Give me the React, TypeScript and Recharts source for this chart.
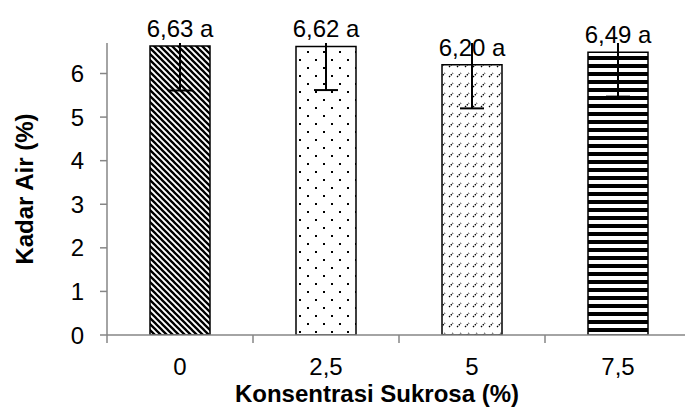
import React from "react";
import {
  BarChart,
  Bar,
  XAxis,
  YAxis,
  Cell,
  ErrorBar,
  LabelList,
} from "recharts";

const categories = ["0", "2,5", "5", "7,5"];
const kadarAir = [6.63, 6.62, 6.2, 6.49];
const errors = [1.02, 1.0, 1.0, 1.02];
const notasi = ["a", "a", "a", "a"];
const yTicks = [0, 1, 2, 3, 4, 5, 6];
const patterns = ["p-diag", "p-dots", "p-dash", "p-horiz"];

const data = categories.map((c, i) => ({
  name: c,
  value: kadarAir[i],
  err: errors[i],
  label: `${kadarAir[i].toFixed(2).replace(".", ",")} ${notasi[i]}`,
}));

const FONT = "'Liberation Sans', Arial, sans-serif";
const AXIS = "#868686";
const FS = 24;

// defs shared through url(#id); the clip keeps error bars inside the plot top like Excel does
const Patterns = () => (
  <svg width={0} height={0} style={{ position: "absolute" }}>
    <defs>
      <clipPath id="plot-top" clipPathUnits="userSpaceOnUse">
        <rect x={0} y={43} width={700} height={400} />
      </clipPath>
      <pattern id="p-diag" width={6} height={6} patternUnits="userSpaceOnUse">
        <rect width={6} height={6} fill="#fff" />
        <path
          d="M-1,-1 L7,7 M-1,5 L1,7 M5,-1 L7,1"
          stroke="#000"
          strokeWidth={2.3}
        />
      </pattern>
      <pattern id="p-dots" width={16} height={16} patternUnits="userSpaceOnUse">
        <rect width={16} height={16} fill="#fff" />
        <rect x={3} y={3} width={2} height={2} fill="#000" />
        <rect x={11} y={11} width={2} height={2} fill="#000" />
      </pattern>
      <pattern id="p-dash" width={8} height={10} patternUnits="userSpaceOnUse">
        <rect width={8} height={10} fill="#fff" />
        <path d="M1,7 L5,3" stroke="#000" strokeWidth={1.3} strokeDasharray="1.5 1" />
      </pattern>
      <pattern id="p-horiz" width={8} height={8} patternUnits="userSpaceOnUse">
        <rect width={8} height={8} fill="#fff" />
        <rect width={8} height={4} fill="#000" />
      </pattern>
    </defs>
  </svg>
);

const XTick = (props: any) => {
  const { x, y, payload, index, visibleTicksCount } = props;
  const half = payload && payload.offset ? payload.offset : 73;
  return (
    <g>
      <line x1={x - half} x2={x - half} y1={y - 8} y2={y} stroke={AXIS} strokeWidth={1.5} />
      {index === visibleTicksCount - 1 && (
        <line x1={x + half} x2={x + half} y1={y - 8} y2={y} stroke={AXIS} strokeWidth={1.5} />
      )}
      <text
        x={x}
        y={y + 32}
        textAnchor="middle"
        fontSize={FS}
        fontFamily={FONT}
        fill="#000"
      >
        {payload.value}
      </text>
    </g>
  );
};

export default function App() {
  return (
    <div style={{ width: 685, height: 407, overflow: "hidden", position: "relative" }}>
      <style>{`body{margin:0} .recharts-errorBars{clip-path:url(#plot-top)}`}</style>
      <Patterns />
      <BarChart
        width={700}
        height={407}
        data={data}
        margin={{ top: 43, right: 9, left: 0, bottom: 0 }}
      >
        <XAxis
          dataKey="name"
          height={72}
          axisLine={{ stroke: AXIS, strokeWidth: 1.5 }}
          tickLine={false}
          tick={<XTick />}
          label={{
            value: "Konsentrasi Sukrosa (%)",
            position: "insideBottom",
            offset: 5,
            dx: -22,
            fontSize: FS,
            fontWeight: "bold",
            fontFamily: FONT,
            fill: "#000",
          }}
        />
        <YAxis
          width={107}
          domain={[0, 6.7]}
          ticks={yTicks}
          allowDataOverflow
          axisLine={{ stroke: AXIS, strokeWidth: 1.5 }}
          tickLine={{ stroke: AXIS, strokeWidth: 1.5 }}
          tickSize={7}
          tickMargin={16}
          tick={{ fontSize: FS, fontFamily: FONT, fill: "#000" }}
          label={{
            value: "Kadar Air (%)",
            angle: -90,
            position: "insideLeft",
            offset: 24,
            fontSize: FS,
            fontWeight: "bold",
            fontFamily: FONT,
            fill: "#000",
            style: { textAnchor: "middle" },
          }}
        />
        <Bar
          dataKey="value"
          barSize={60}
          stroke="#000"
          strokeWidth={1.5}
          isAnimationActive={false}
        >
          {data.map((d, i) => (
            <Cell key={d.name} fill={`url(#${patterns[i]})`} />
          ))}
          <ErrorBar
            dataKey="err"
            width={12}
            stroke="#000"
            strokeWidth={2}
            direction="y"
          />
          <LabelList
            dataKey="label"
            position="top"
            offset={9}
            fontSize={FS}
            fontFamily={FONT}
            fill="#000"
          />
        </Bar>
      </BarChart>
    </div>
  );
}
